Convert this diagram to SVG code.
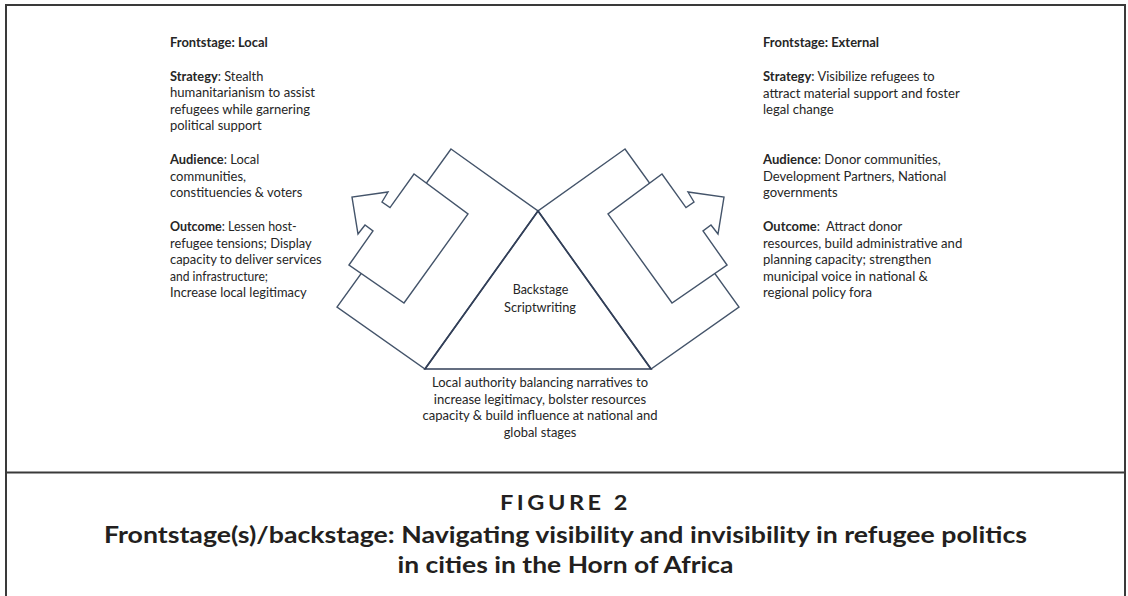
<svg xmlns="http://www.w3.org/2000/svg" width="1128" height="596" viewBox="0 0 1128 596">
<style>
.t{font-family:Lato,"Liberation Sans",sans-serif;font-size:12.5px;fill:#262626}
.b{font-weight:bold}
.c{text-anchor:middle}
.shape{fill:#fff;stroke:#44546a;stroke-width:1.4;stroke-linejoin:miter}
.tri{fill:none;stroke:#323f58;stroke-width:1.7}
.cap{font-family:Lato,"Liberation Sans",sans-serif;font-weight:bold;fill:#231f20;text-anchor:middle}
</style>
<rect width="1128" height="596" fill="#fff"/>
<rect x="6" y="5" width="1119" height="600" fill="none" stroke="#3a3a3a" stroke-width="2"/>
<line x1="6" y1="472.5" x2="1125" y2="472.5" stroke="#3a3a3a" stroke-width="2"/>

<g id="connectors">
<polygon id="left-outer" class="shape" points="451,149 538,211 425,369 337,307"/>
<polygon id="left-arrow" class="shape" points="349,265 373,231 365,225 358,234 352,197 388,192 382,202 390,207.6 414,174 468,214 404,303"/>
<polygon id="right-outer" class="shape" points="625,149 538,211 651,369 739,307"/>
<polygon id="right-arrow" class="shape" points="727,265 703,231 711,225 718,234 724,197 688,192 694,202 686,207.6 662,174 608,214 672,303"/>
</g>

<g id="backstage">
<polygon class="tri" points="538,211 425,369 651,369"/>
<text class="t c" x="540.5" y="294.3" textLength="55.6" lengthAdjust="spacingAndGlyphs">Backstage</text>
<text class="t c" x="540" y="311.5" textLength="72" lengthAdjust="spacingAndGlyphs">Scriptwriting</text>
</g>

<g id="frontstage-local">
<text class="t b" x="170" y="46.5" textLength="97.7" lengthAdjust="spacingAndGlyphs">Frontstage: Local</text>
<text class="t" x="170" y="81" textLength="93.3" lengthAdjust="spacingAndGlyphs"><tspan class="b">Strategy</tspan>: Stealth</text>
<text class="t" x="170" y="97.3" textLength="145" lengthAdjust="spacingAndGlyphs">humanitarianism to assist</text>
<text class="t" x="170" y="113.6" textLength="140" lengthAdjust="spacingAndGlyphs">refugees while garnering</text>
<text class="t" x="170" y="130" textLength="91.7" lengthAdjust="spacingAndGlyphs">political support</text>
<text class="t" x="170" y="164" textLength="89.3" lengthAdjust="spacingAndGlyphs"><tspan class="b">Audience</tspan>: Local</text>
<text class="t" x="170" y="180.5" textLength="76" lengthAdjust="spacingAndGlyphs">communities,</text>
<text class="t" x="170" y="197" textLength="132.3" lengthAdjust="spacingAndGlyphs">constituencies &amp; voters</text>
<text class="t" x="170" y="231" textLength="126.7" lengthAdjust="spacingAndGlyphs"><tspan class="b">Outcome</tspan>: Lessen host-</text>
<text class="t" x="170" y="247.5" textLength="141.7" lengthAdjust="spacingAndGlyphs">refugee tensions; Display</text>
<text class="t" x="170" y="264" textLength="151.7" lengthAdjust="spacingAndGlyphs">capacity to deliver services</text>
<text class="t" x="170" y="280.5" textLength="98" lengthAdjust="spacingAndGlyphs">and infrastructure;</text>
<text class="t" x="170" y="297" textLength="136.7" lengthAdjust="spacingAndGlyphs">Increase local legitimacy</text>
</g>

<g id="frontstage-external">
<text class="t b" x="763" y="46.5" textLength="116" lengthAdjust="spacingAndGlyphs">Frontstage: External</text>
<text class="t" x="763" y="81" textLength="171.7" lengthAdjust="spacingAndGlyphs"><tspan class="b">Strategy</tspan>: Visibilize refugees to</text>
<text class="t" x="763" y="97.5" textLength="196.7" lengthAdjust="spacingAndGlyphs">attract material support and foster</text>
<text class="t" x="763" y="114" textLength="70.7" lengthAdjust="spacingAndGlyphs">legal change</text>
<text class="t" x="763" y="164" textLength="177.7" lengthAdjust="spacingAndGlyphs"><tspan class="b">Audience</tspan>: Donor communities,</text>
<text class="t" x="763" y="180.5" textLength="183.3" lengthAdjust="spacingAndGlyphs">Development Partners, National</text>
<text class="t" x="763" y="197" textLength="74.7" lengthAdjust="spacingAndGlyphs">governments</text>
<text class="t" x="763" y="231" textLength="139.3" lengthAdjust="spacingAndGlyphs"><tspan class="b">Outcome</tspan>:<tspan dx="6">Attract donor</tspan></text>
<text class="t" x="763" y="247.5" textLength="199.3" lengthAdjust="spacingAndGlyphs">resources, build administrative and</text>
<text class="t" x="763" y="264" textLength="168.3" lengthAdjust="spacingAndGlyphs">planning capacity; strengthen</text>
<text class="t" x="763" y="280.5" textLength="165" lengthAdjust="spacingAndGlyphs">municipal voice in national &amp;</text>
<text class="t" x="763" y="297" textLength="109" lengthAdjust="spacingAndGlyphs">regional policy fora</text>
</g>

<g id="local-authority">
<text class="t c" x="540" y="387" textLength="216" lengthAdjust="spacingAndGlyphs">Local authority balancing narratives to</text>
<text class="t c" x="540" y="403.7" textLength="212.3" lengthAdjust="spacingAndGlyphs">increase legitimacy, bolster resources</text>
<text class="t c" x="540" y="420.3" textLength="235" lengthAdjust="spacingAndGlyphs">capacity &amp; build influence at national and</text>
<text class="t c" x="540" y="437" textLength="72.7" lengthAdjust="spacingAndGlyphs">global stages</text>
</g>

<g id="caption">
<text class="cap" x="565.5" y="510" font-size="20" letter-spacing="3" textLength="131" lengthAdjust="spacingAndGlyphs">FIGURE 2</text>
<text class="cap" x="565.5" y="543.3" font-size="22" textLength="923" lengthAdjust="spacingAndGlyphs">Frontstage(s)/backstage: Navigating visibility and invisibility in refugee politics</text>
<text class="cap" x="565.5" y="573.3" font-size="22" textLength="336" lengthAdjust="spacingAndGlyphs">in cities in the Horn of Africa</text>
</g>
</svg>
